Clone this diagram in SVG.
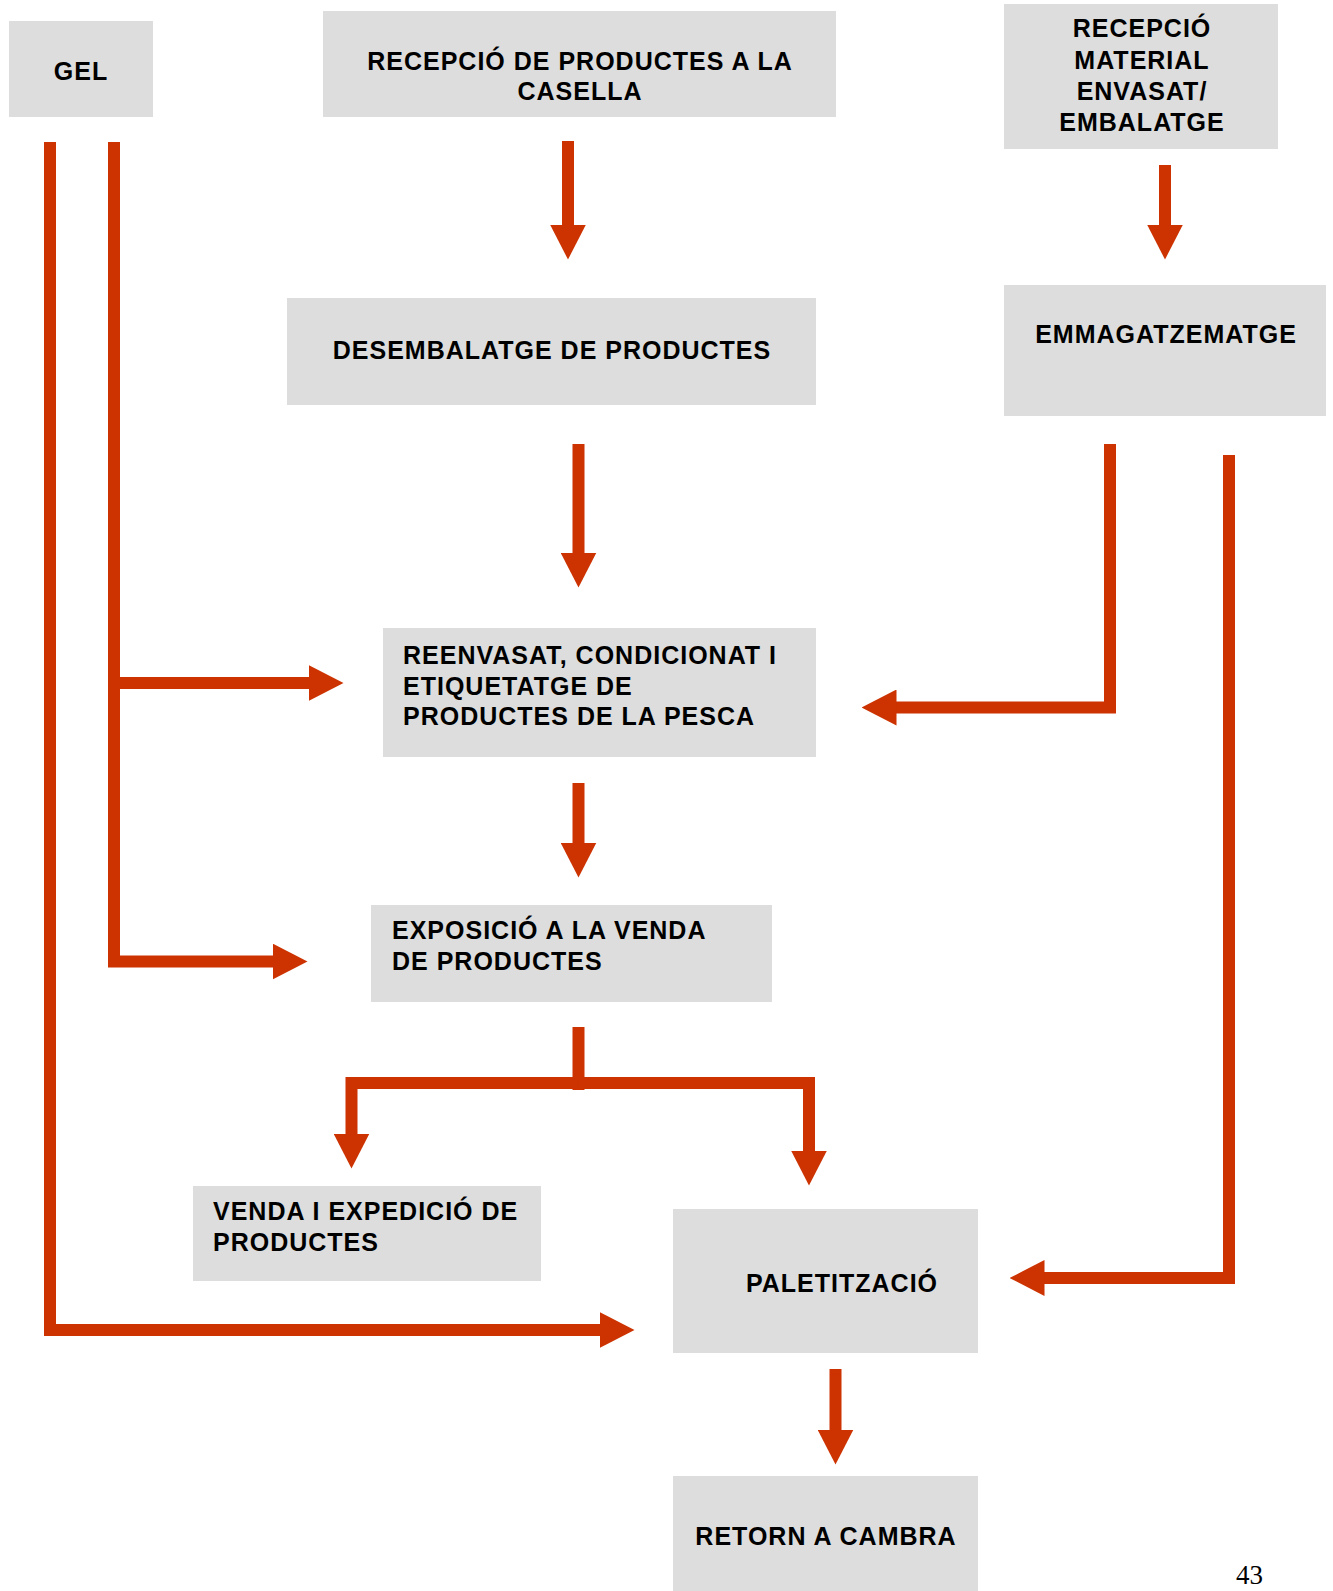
<svg xmlns="http://www.w3.org/2000/svg" width="1333" height="1591" viewBox="0 0 1333 1591">
<defs>
<style>
.box{fill:#DDDDDD}
.t{font-family:"Liberation Sans",Arial,sans-serif;font-weight:bold;font-size:25px;letter-spacing:1px;fill:#000}
.c{text-anchor:middle}
.ln{fill:none;stroke:#CC3300;stroke-width:12;stroke-linejoin:miter;stroke-linecap:butt}
.ar{marker-end:url(#ah)}
.pg{font-family:"Liberation Serif","Times New Roman",serif;font-size:27px;fill:#000}
</style>
<marker id="ah" markerUnits="userSpaceOnUse" markerWidth="35" markerHeight="36" viewBox="0 0 35 36" refX="0.5" refY="18" orient="auto">
<path d="M0,0 L35,18 L0,36 z" fill="#CC3300"/>
</marker>
</defs>
<rect width="1333" height="1591" fill="#FFFFFF"/>

<g id="gel">
<rect class="box" x="9" y="21" width="144" height="96"/>
<text class="t c" x="81" y="80">GEL</text>
</g>

<g id="recepcio-productes">
<rect class="box" x="323" y="11" width="513" height="106"/>
<text class="t c" x="580" y="70">RECEPCIÓ DE PRODUCTES A LA</text>
<text class="t c" x="580" y="100">CASELLA</text>
</g>

<g id="recepcio-material">
<rect class="box" x="1004" y="4" width="274" height="145"/>
<text class="t c" x="1142" y="37">RECEPCIÓ</text>
<text class="t c" x="1142" y="69">MATERIAL</text>
<text class="t c" x="1142" y="100">ENVASAT/</text>
<text class="t c" x="1142" y="131">EMBALATGE</text>
</g>

<g id="desembalatge">
<rect class="box" x="287" y="298" width="529" height="107"/>
<text class="t c" x="552" y="359">DESEMBALATGE DE PRODUCTES</text>
</g>

<g id="emmagatzematge">
<rect class="box" x="1004" y="285" width="322" height="131"/>
<text class="t c" x="1166" y="343">EMMAGATZEMATGE</text>
</g>

<g id="reenvasat">
<rect class="box" x="383" y="628" width="433" height="129"/>
<text class="t" x="403" y="664">REENVASAT, CONDICIONAT I</text>
<text class="t" x="403" y="695">ETIQUETATGE DE</text>
<text class="t" x="403" y="725">PRODUCTES DE LA PESCA</text>
</g>

<g id="exposicio">
<rect class="box" x="371" y="905" width="401" height="97"/>
<text class="t" x="392" y="939">EXPOSICIÓ A LA VENDA</text>
<text class="t" x="392" y="970">DE PRODUCTES</text>
</g>

<g id="venda">
<rect class="box" x="193" y="1186" width="348" height="95"/>
<text class="t" x="213" y="1220">VENDA I EXPEDICIÓ DE</text>
<text class="t" x="213" y="1251">PRODUCTES</text>
</g>

<g id="paletitzacio">
<rect class="box" x="673" y="1209" width="305" height="144"/>
<text class="t c" x="842" y="1292">PALETITZACIÓ</text>
</g>

<g id="retorn">
<rect class="box" x="673" y="1476" width="305" height="120"/>
<text class="t c" x="826" y="1545">RETORN A CAMBRA</text>
</g>

<g id="connectors">
<path class="ln ar" d="M50,142 V1330 H600"/>
<path class="ln ar" d="M114,142 V961.5 H273"/>
<path class="ln ar" d="M114,683 H309"/>
<path class="ln ar" d="M568,141 V225"/>
<path class="ln ar" d="M1165,165 V225"/>
<path class="ln ar" d="M578.5,444 V553"/>
<path class="ln ar" d="M1110,444 V707.5 H896"/>
<path class="ln ar" d="M1229,455 V1278 H1044"/>
<path class="ln ar" d="M578.5,783 V843"/>
<path class="ln" d="M578.5,1027 V1090"/>
<path class="ln ar" d="M578.5,1083 H351.5 V1134"/>
<path class="ln ar" d="M578.5,1083 H809 V1151"/>
<path class="ln ar" d="M835.5,1369 V1430"/>
</g>

<text class="pg" x="1236" y="1584">43</text>
</svg>
